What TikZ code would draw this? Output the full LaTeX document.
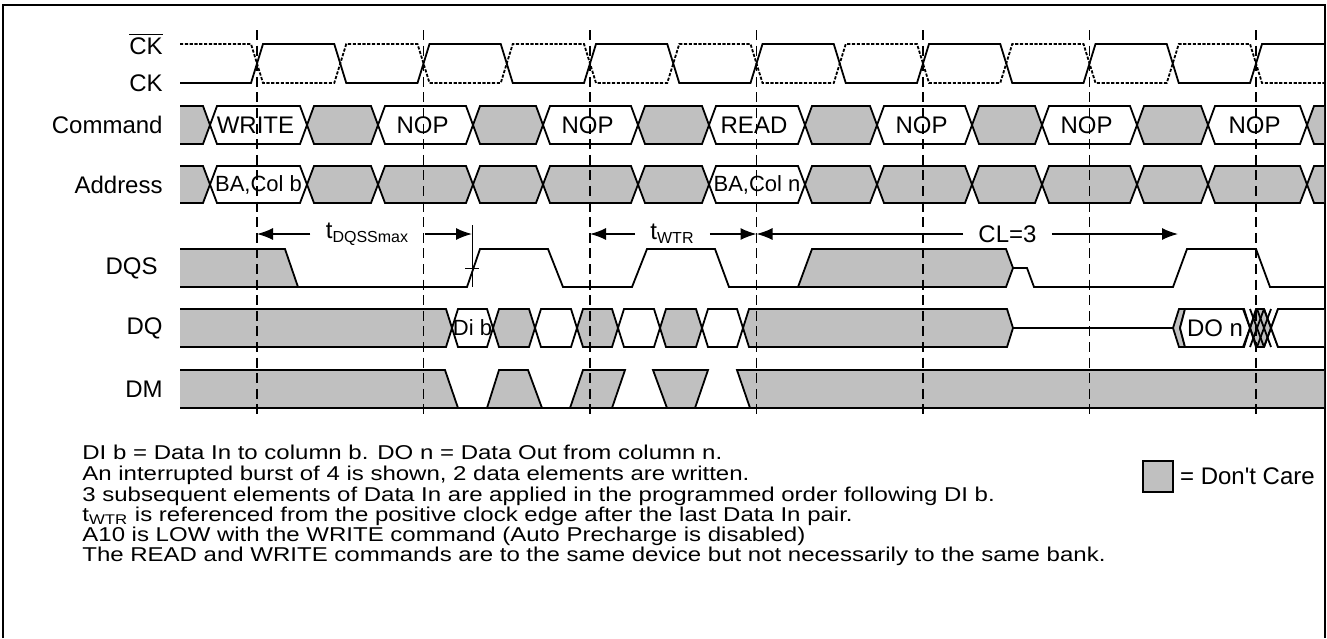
\documentclass[tikz,border=0pt]{standalone}
\usepackage{fontspec}
\setmainfont{Liberation Sans}
\newfontfamily\widefont{Liberation Sans}[FakeStretch=1.2]
\usetikzlibrary{positioning,arrows.meta}
\definecolor{dontcare}{RGB}{192,192,192}
\tikzset{
	timing diagram/.style={
		x=0.5pt,y=-0.5pt,
		font=\fontsize{12}{14}\selectfont,
		wave line/.style={line width=0.9pt},
		clock line/.style={wave line},
		clock bar line/.style={wave line,dash pattern=on 1.6pt off 0.8pt},
		clock edge/.style={line width=0.75pt,dash pattern=on 5pt off 2.8pt},
		dont care/.style={wave line,draw,fill=dontcare},
		bus valid/.style={wave line,draw,fill=white},
		bus text/.style={inner sep=0pt},
		signal name/.style={anchor=east,inner sep=0pt},
		timing label/.style={inner xsep=7.5pt,inner ysep=0pt},
		dim arrow/.style={line width=0.7pt,-{Latex[length=8pt,width=6pt]}},
		marker/.style={line width=0.45pt},
		note/.style={anchor=base west,inner sep=0pt,text height=7pt,text depth=1.5pt,font=\widefont\fontsize{10}{12}\selectfont},
		legend box/.style={draw,fill=dontcare,line width=0.7pt,minimum width=15pt,minimum height=15.5pt,inner sep=0pt},
		legend text/.style={inner sep=0pt,font=\fontsize{12}{14}\selectfont}
	}
}

\begin{document}
\begin{tikzpicture}[timing diagram]
	\useasboundingbox (0,0) rectangle (1327,638);
	% frame, open at the bottom
	\draw[line width=0.9pt] (3,638) -- (3,5) -- (1325,5) -- (1325,638);

	% signal names
	\node[signal name] (ck bar) at (163,44) {$\overline{\mbox{CK}}$};
	\node[signal name] (ck) at (163,83) {CK};
	\node[signal name] (command) at (163,125) {Command};
	\node[signal name] (address) at (163,184.5) {Address};
	\node[signal name] (dqs) at (158,268) {DQS};
	\node[signal name] (dq) at (163,328) {DQ};
	\node[signal name] (dm) at (163,389) {DM};

	\begin{scope}
		\clip (180,0) rectangle (1324,420);
		% clock pair
		\draw[clock line] (180,83)
			\foreach \e in {257,423.5,590,756.5,923,1089.5}{ -- (\e-6,83) -- (\e+6,44) -- (\e+77.25,44) -- (\e+89.25,83) }
			-- (1250,83) -- (1262,44) -- (1335,44);
		\draw[clock bar line] (180,44)
			\foreach \e in {257,423.5,590,756.5,923,1089.5}{ -- (\e-6,44) -- (\e+6,83) -- (\e+77.25,83) -- (\e+89.25,44) }
			-- (1250,44) -- (1262,83) -- (1335,83);

		% command bus
		\foreach \a/\b/\s/\t [count=\i] in {150/210/dont care/, 210/307/bus valid/WRITE, 307/378/dont care/,
			378/473/bus valid/NOP, 473/543/dont care/, 543/638/bus valid/NOP, 638/709/dont care/,
			709/805/bus valid/READ, 805/877/dont care/, 877/972/bus valid/NOP, 972/1042/dont care/,
			1042/1137/bus valid/NOP, 1137/1208/dont care/, 1208/1307/bus valid/NOP, 1307/1380/dont care/}{
			\draw[\s] (\a,125) -- (\a+7,106) -- (\b-7,106) -- (\b,125) -- (\b-7,144) -- (\a+7,144) -- cycle;
			\node[bus text] (cmd\i) at ({(\a+\b)/2-3},125) {\t};
		}

		% address bus
		\foreach \a/\b/\s/\t [count=\i] in {150/210/dont care/, 210/307/bus valid/{BA,Col b}, 307/378/dont care/,
			378/473/dont care/, 473/543/dont care/, 543/638/dont care/, 638/709/dont care/,
			709/805/bus valid/{BA,Col n}, 805/877/dont care/, 877/972/dont care/, 972/1042/dont care/,
			1042/1137/dont care/, 1137/1208/dont care/, 1208/1307/dont care/, 1307/1380/dont care/}{
			\draw[\s] (\a,184.5) -- (\a+7,166) -- (\b-7,166) -- (\b,184.5) -- (\b-7,203) -- (\a+7,203) -- cycle;
			\node[bus text,font=\fontsize{11}{13}\selectfont] (addr\i) at ({(\a+\b)/2},184.5) {\t};
		}

		% DQS
		\draw[dont care] (170,249) -- (285,249) -- (298,287) -- (170,287) -- cycle;
		\draw[wave line] (298,287) -- (467,287) -- (480,249) -- (548,249) -- (563,287) -- (632,287)
			-- (647,249) -- (715,249) -- (729,287) -- (798,287);
		\draw[dont care] (798,287) -- (812,249) -- (1006,249) -- (1013,268) -- (1006,287) -- cycle;
		\draw[wave line] (1013,268) -- (1027,268) -- (1034,287) -- (1173,287) -- (1187,249) -- (1256,249)
			-- (1270,287) -- (1335,287);

		% DQ
		\foreach \a/\b/\s/\t [count=\i] in {150/452/dont care/, 452/493/bus valid/Di b, 493/535/dont care/,
			535/577/bus valid/, 577/618/dont care/, 618/660/bus valid/, 660/702/dont care/,
			702/743/bus valid/, 743/1013/dont care/}{
			\draw[\s] (\a,328) -- (\a+6,309) -- (\b-6,309) -- (\b,328) -- (\b-6,347) -- (\a+6,347) -- cycle;
			\node[bus text,font=\fontsize{11}{13}\selectfont] (dq\i) at ({(\a+\b)/2},328) {\t};
		}
		\draw[wave line] (1013,328) -- (1173,328);
		\draw[dont care] (1173,328) -- (1179,309) -- (1185,309) -- (1180,328) -- (1185,347) -- (1179,347) -- cycle;
		\draw[bus valid] (1180,328) -- (1185,309) -- (1244,309) -- (1250,328) -- (1244,347) -- (1185,347) -- cycle;
		\node[bus text] (dout) at (1215,328) {DO n};
		\draw[dont care] (1250,328) -- (1256,309) -- (1264,309) -- (1271,328) -- (1264,347) -- (1256,347) -- cycle;
		\foreach \c in {1250,1257,1264,1271}
			\draw[wave line] (\c-7,309) -- (\c+7,347) (\c+7,309) -- (\c-7,347);
		\draw[bus valid] (1271,328) -- (1278,309) -- (1340,309) -- (1340,347) -- (1278,347) -- cycle;

		% DM
		\draw[wave line] (170,408) -- (1335,408);
		\draw[dont care] (170,370) -- (445,370) -- (458,408) -- (170,408) -- cycle;
		\draw[dont care] (487,408) -- (499,370) -- (528,370) -- (542,408) -- cycle;
		\draw[dont care] (570,408) -- (583,370) -- (625,370) -- (612,408) -- cycle;
		\draw[dont care] (653,370) -- (708,370) -- (695,408) -- (667,408) -- cycle;
		\draw[dont care] (737,370) -- (1335,370) -- (1335,408) -- (750,408) -- cycle;
	\end{scope}

	% rising clock edges
	\foreach \e [count=\i] in {257,423.5,590,756.5,923,1089.5,1256}{
		\coordinate (edge\i top) at (\e,30);
		\coordinate (edge\i bot) at (\e,415);
		\draw[clock edge] (edge\i top) -- (edge\i bot);
	}

	% timing parameters
	\coordinate (dqss left) at (257,234);
	\coordinate (dqss right) at (472,234);
	\node[timing label] (dqss) at (367.5,234) {t\textsubscript{DQSSmax}};
	\draw[dim arrow] (dqss) -- (dqss left);
	\draw[dim arrow] (dqss) -- (dqss right);
	\coordinate (dqss tick top) at (472,225);
	\coordinate (dqss tick bot) at (472,287);
	\coordinate (dqss cross left) at (465,268);
	\coordinate (dqss cross right) at (479,268);
	\draw[marker] (dqss tick top) -- (dqss tick bot);
	\draw[marker] (dqss cross left) -- (dqss cross right);

	\coordinate (wtr left) at (590,234);
	\coordinate (wtr right) at (756.5,234);
	\node[timing label] (wtr) at (672.5,234) {t\textsubscript{WTR}};
	\draw[dim arrow] (wtr) -- (wtr left);
	\draw[dim arrow] (wtr) -- (wtr right);

	\coordinate (cl left) at (756.5,234);
	\coordinate (cl right) at (1178,234);
	\node[timing label] (cl) at (1007.5,234) {CL=3};
	\draw[dim arrow] (cl) -- (cl left);
	\draw[dim arrow] (cl) -- (cl right);

	% notes
	\node[note] (note1) at (82,459.5) {DI b = Data In to column b. DO n = Data Out from column n.};
	\node[note] (note2) at (82,480.5) {An interrupted burst of 4 is shown, 2 data elements are written.};
	\node[note] (note3) at (82,501.5) {3 subsequent elements of Data In are applied in the programmed order following DI b.};
	\node[note] (note4) at (82,521) {t\textsubscript{WTR} is referenced from the positive clock edge after the last Data In pair.};
	\node[note] (note5) at (82,541) {A10 is LOW with the WRITE command (Auto Precharge is disabled)};
	\node[note] (note6) at (82,561) {The READ and WRITE commands are to the same device but not necessarily to the same bank.};

	% legend
	\node[legend box] (legend) at (1158,476.5) {};
	\node[legend text,right=3pt of legend] (legend label) {= Don\textquotesingle t Care};
\end{tikzpicture}
\end{document}
